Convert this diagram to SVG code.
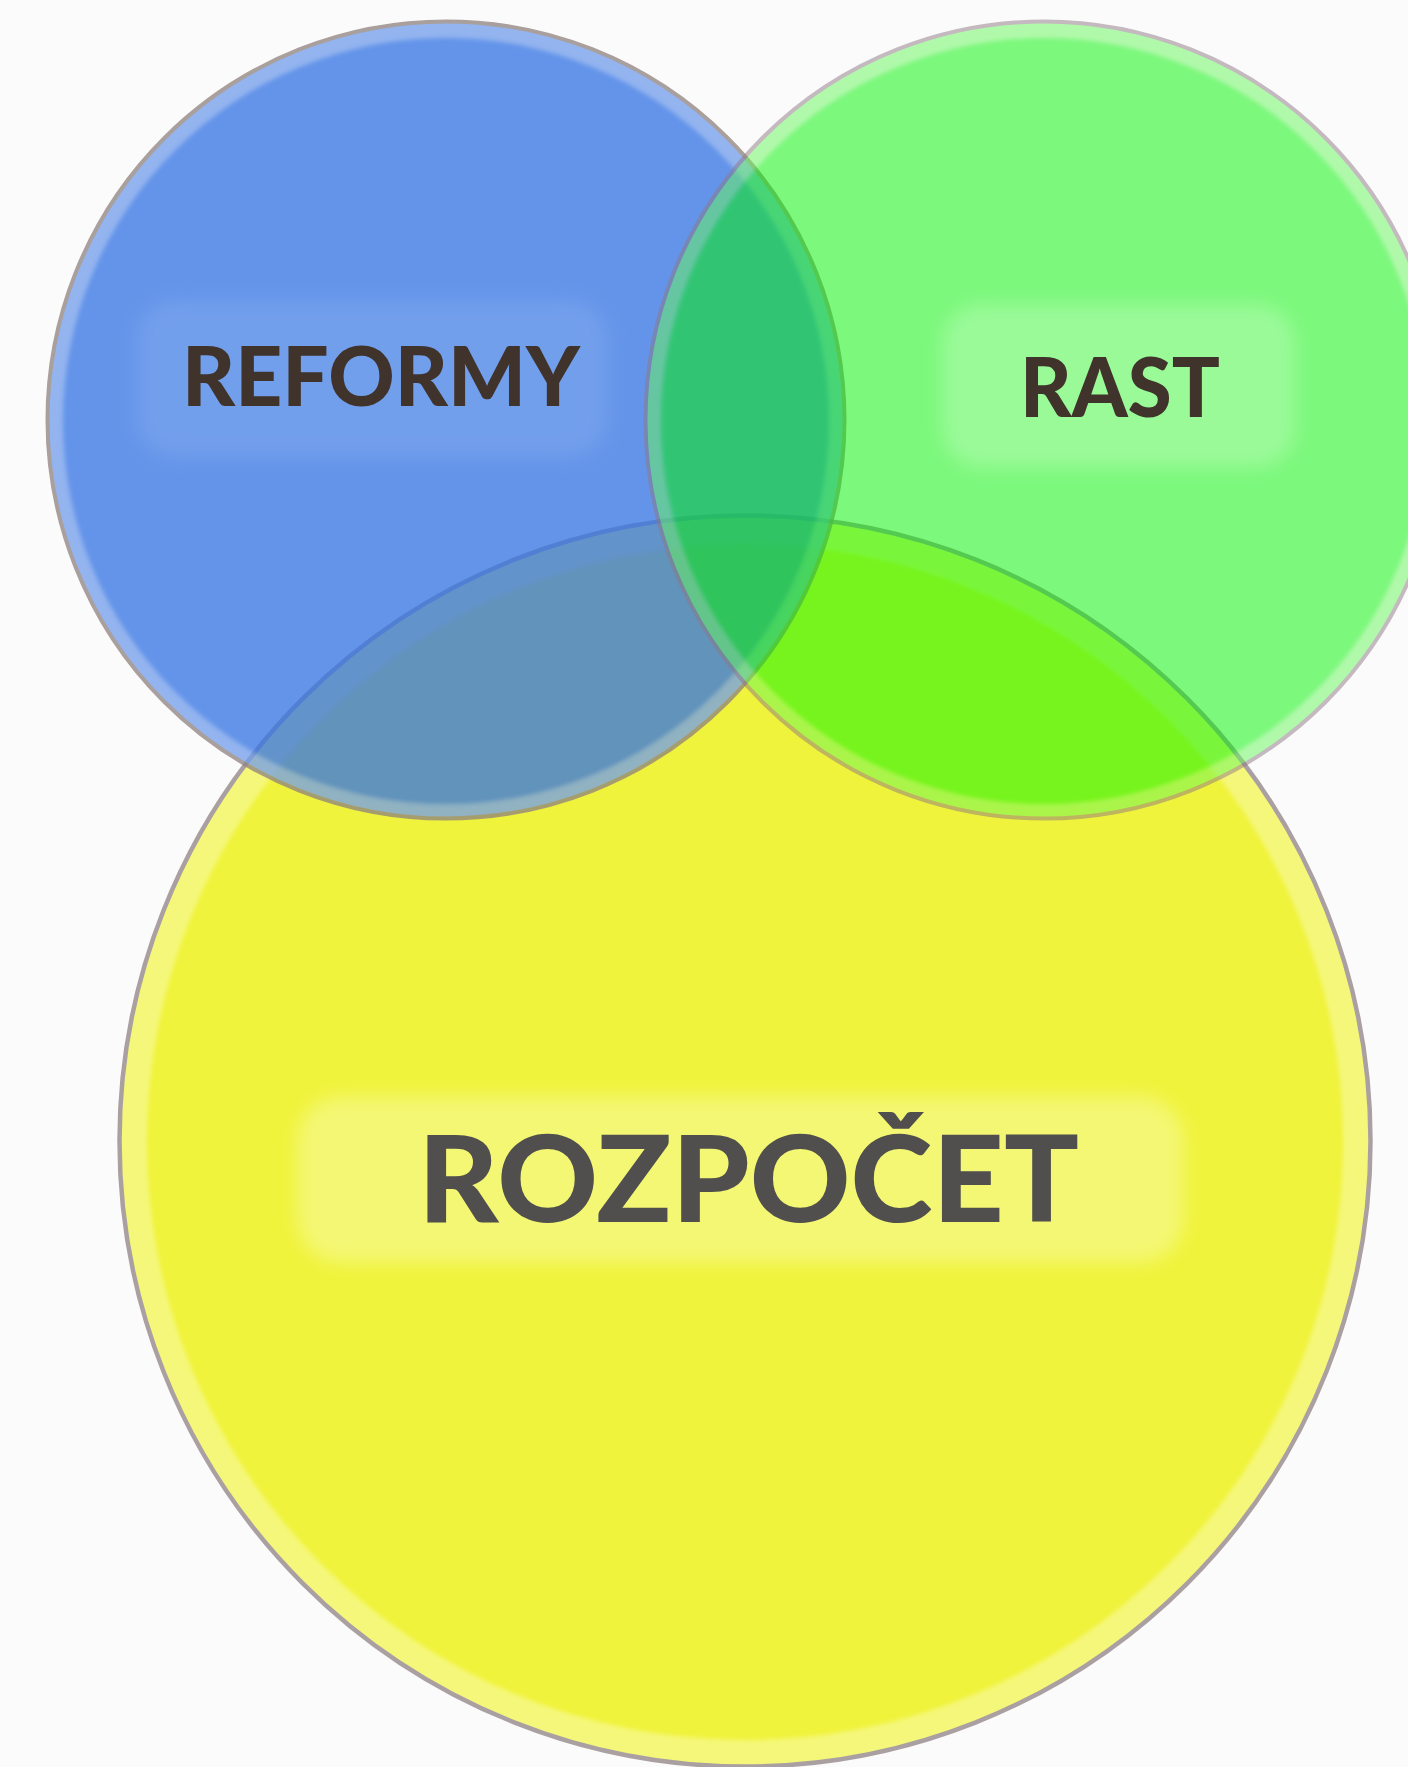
<svg xmlns="http://www.w3.org/2000/svg" width="1408" height="1767" viewBox="0 0 1408 1767">
<defs>
<filter id="soft" x="-20%" y="-40%" width="140%" height="180%">
<feGaussianBlur stdDeviation="9"/>
</filter>
<filter id="edge" x="-5%" y="-5%" width="110%" height="110%">
<feGaussianBlur stdDeviation="2"/>
</filter>
</defs>
<style>
.lbl{font-family:Lato,"Open Sans","Liberation Sans",sans-serif;font-weight:900;text-anchor:middle}
.dark{fill:#40332b}
.gray{fill:#504f4d}
</style>
<rect width="1408" height="1767" fill="#fbfbfb"/>
<g id="rozpocet">
<circle cx="745" cy="1141" r="625.5" fill="#f5f77a" stroke="#aaa0a2" stroke-width="4.5"/>
<circle cx="745" cy="1142" r="598" fill="#f0f33b" filter="url(#edge)"/>
</g>
<g id="reformy" opacity="0.76">
<circle cx="446" cy="420" r="398.5" fill="#739eec" stroke="#90837f" stroke-width="4"/>
<circle cx="446" cy="421" r="383" fill="#3474e4" filter="url(#edge)"/>
</g>
<g id="rast" opacity="0.5">
<circle cx="1044" cy="420" r="398.5" fill="#68f85c" stroke="#8c7a84" stroke-width="4"/>
<circle cx="1044" cy="421" r="383" fill="#04f600" filter="url(#edge)"/>
</g>
<g id="label-reformy">
<rect x="136" y="300" width="472" height="157" rx="40" fill="#729fec" filter="url(#soft)"/>
<text class="lbl dark" x="381" y="406" font-size="82" textLength="398" lengthAdjust="spacingAndGlyphs">REFORMY</text>
</g>
<g id="label-rast">
<rect x="942" y="304" width="354" height="164" rx="40" fill="#9afa98" filter="url(#soft)"/>
<text class="lbl dark" x="1120" y="417" font-size="82" textLength="200" lengthAdjust="spacingAndGlyphs">RAST</text>
</g>
<g id="label-rozpocet">
<rect x="297" y="1096" width="887" height="167" rx="45" fill="#f4f773" filter="url(#soft)"/>
<text class="lbl gray" x="748.5" y="1222" font-size="121" textLength="661" lengthAdjust="spacingAndGlyphs">ROZPOČET</text>
</g>
</svg>
